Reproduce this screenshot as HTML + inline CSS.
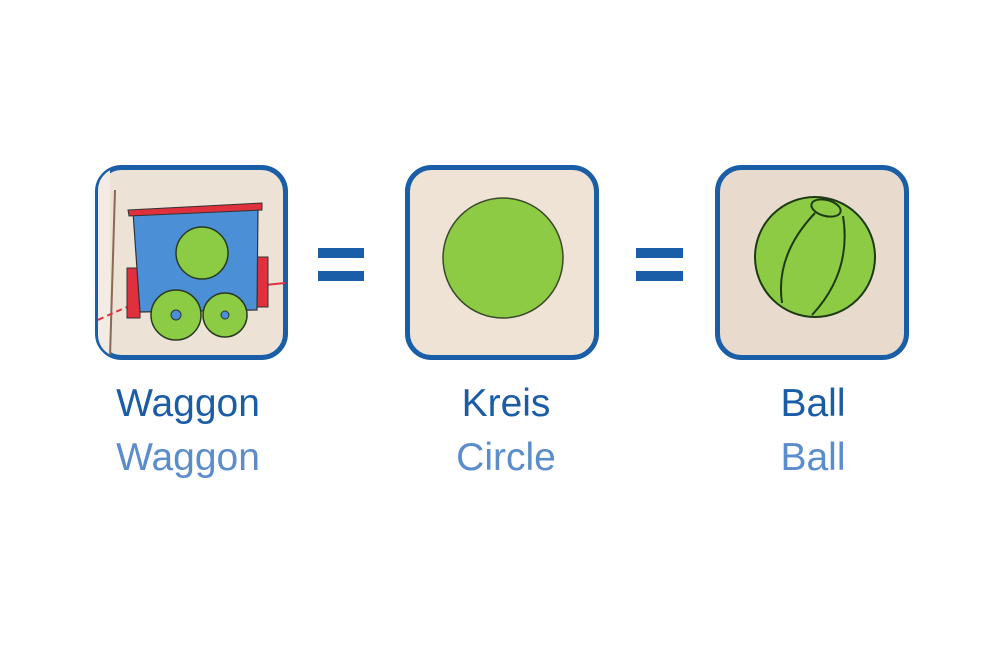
<!DOCTYPE html>
<html><head><style>
body{margin:0;width:1000px;height:668px;background:#fff;overflow:hidden;position:relative;font-family:"Liberation Sans",sans-serif}
.t{position:absolute;width:240px;text-align:center;font-size:39px;line-height:46px}
.a{color:#1b5ca6;top:381px}
.b{color:#5b8ccb;top:435px}
</style></head><body>
<svg width="1000" height="668" style="position:absolute;left:0;top:0">
<defs><clipPath id="c1"><rect x="98" y="168" width="187" height="189" rx="22"/></clipPath></defs>
<rect x="97.5" y="167.5" width="188" height="190" rx="24" fill="#ede2d6" stroke="#1a5ea8" stroke-width="5"/>
<g clip-path="url(#c1)">
<rect x="98" y="168" width="12" height="190" fill="#f3ece4"/>
<line x1="115" y1="190" x2="110" y2="357" stroke="#8a6a55" stroke-width="2"/>
<path d="M98 320 Q140 300 175 290" stroke="#e03040" stroke-width="2" fill="none" stroke-dasharray="6 4"/>
<path d="M265 285 L285 283" stroke="#e03040" stroke-width="2"/>
<rect x="127" y="268" width="13" height="50" fill="#e0303e" stroke="#333" stroke-width="1"/>
<rect x="256" y="257" width="12" height="50" fill="#e0303e" stroke="#333" stroke-width="1"/>
<path d="M133 212 L258 207 L257 310 L140 312 Z" fill="#4b8fd6" stroke="#333" stroke-width="1.2"/>
<path d="M128 210 L262 203 L262 210 L129 216 Z" fill="#e0303e" stroke="#333" stroke-width="1"/>
<circle cx="202" cy="253" r="26" fill="#8ccc45" stroke="#2a3a20" stroke-width="1.5"/>
<circle cx="176" cy="315" r="25" fill="#8ccc45" stroke="#2a3a20" stroke-width="1.5"/>
<circle cx="225" cy="315" r="22" fill="#8ccc45" stroke="#2a3a20" stroke-width="1.5"/>
<circle cx="176" cy="315" r="5" fill="#4b8fd6" stroke="#333"/>
<circle cx="225" cy="315" r="4" fill="#4b8fd6" stroke="#333"/>
</g>
<rect x="407.5" y="167.5" width="189" height="190" rx="24" fill="#efe3d6" stroke="#1a5ea8" stroke-width="5"/>
<circle cx="503" cy="258" r="60" fill="#8dcb45" stroke="#3a4a2a" stroke-width="1.5"/>
<rect x="717.5" y="167.5" width="189" height="190" rx="24" fill="#e8dbcd" stroke="#1a5ea8" stroke-width="5"/>
<circle cx="815" cy="257" r="60" fill="#8dcb45" stroke="#1e3a14" stroke-width="2"/>
<path d="M815 213 Q775 255 782 303" stroke="#1e3a14" stroke-width="2" fill="none"/>
<path d="M843 216 Q852 272 812 315" stroke="#1e3a14" stroke-width="2" fill="none"/>
<ellipse cx="826" cy="208" rx="15" ry="8" transform="rotate(15 826 208)" fill="#8dcb45" stroke="#1e3a14" stroke-width="2"/>
<rect x="318" y="248" width="46" height="10" fill="#1a5ea8"/>
<rect x="318" y="271" width="46" height="10" fill="#1a5ea8"/>
<rect x="636" y="248" width="47" height="10" fill="#1a5ea8"/>
<rect x="636" y="271" width="47" height="10" fill="#1a5ea8"/>
</svg>
<div class="t a" style="left:68px">Waggon</div>
<div class="t b" style="left:68px">Waggon</div>
<div class="t a" style="left:386px">Kreis</div>
<div class="t b" style="left:386px">Circle</div>
<div class="t a" style="left:693px">Ball</div>
<div class="t b" style="left:693px">Ball</div>
</body></html>
